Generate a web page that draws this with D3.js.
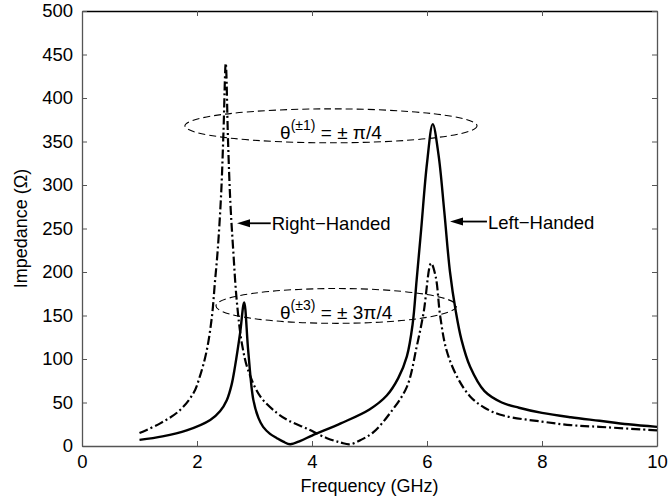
<!DOCTYPE html>
<html lang="en">
<head>
	<meta charset="utf-8"/>
	<title>Impedance vs Frequency</title>
	<script src="https://cdnjs.cloudflare.com/ajax/libs/d3/7.8.5/d3.min.js"></script>
	<style>
		body { margin: 0; background: #fff; }
		text { font-family: "Liberation Sans", Arial, sans-serif; fill: #000; }
	</style>
</head>
<body>
<div id="chart"></div>
<script type="text/javascript">
	// solid curve (freq GHz, impedance ohm)
	var solidFreq = [1.0, 1.4, 1.82, 2.23, 2.4, 2.52, 2.6, 2.66, 2.75, 2.82, 2.89, 2.98, 3.07, 3.15, 3.27, 3.39, 3.5, 3.62, 3.8, 4.0, 4.5, 5.0, 5.3, 5.5, 5.65, 5.75, 5.82, 5.9, 6.0, 6.1, 6.2, 6.3, 6.4, 6.5, 6.6, 6.75, 7.0, 7.3, 7.6, 8.0, 8.5, 9.0, 9.5, 10.0];
	var solidZ    = [7, 11, 18, 30, 40, 53, 70, 91, 130, 165, 110, 53, 32, 22, 14, 9, 5, 2, 6, 12, 26, 42, 58, 78, 103, 140, 191, 250, 325, 370, 335, 270, 200, 155, 122, 91, 63, 50, 44, 38, 33, 29, 25, 22];

	// dash-dot curve
	var dashFreq = [1.0, 1.36, 1.7, 1.94, 2.05, 2.17, 2.26, 2.31, 2.36, 2.42, 2.46, 2.5, 2.54, 2.58, 2.63, 2.69, 2.78, 2.89, 3.1, 3.39, 3.6, 3.91, 4.26, 4.5, 4.66, 4.85, 5.07, 5.36, 5.65, 5.82, 5.94, 6.07, 6.15, 6.23, 6.34, 6.52, 6.75, 7.0, 7.33, 8.0, 8.5, 9.0, 10.0];
	var dashZ    = [15, 26, 41, 61, 80, 110, 149, 187, 225, 290, 360, 440, 350, 280, 225, 168, 118, 87, 57, 38, 29, 20, 9, 4, 2, 7, 16, 38, 68, 114, 153, 210, 195, 149, 110, 80, 57, 44, 35, 28, 24, 22, 18];

	var xTicks = [0, 2, 4, 6, 8, 10];
	var yTicks = [0, 50, 100, 150, 200, 250, 300, 350, 400, 450, 500];

	// annotations: ellipses (center f, center Z, rx in GHz, ry in ohm) + labels
	var ellipseF  = [4.33, 4.42];
	var ellipseZ  = [368, 161];
	var ellipseRx = [2.54, 2.09];
	var ellipseRy = [19.5, 20];
	var thetaSup  = ["(\u00b11)", "(\u00b13)"];
	var thetaRhs  = [" = \u00b1 \u03c0/4", " = \u00b1 3\u03c0/4"];

	var arrowLabels = ["Right\u2212Handed", "Left\u2212Handed"];
	var arrowTipF   = [2.7, 6.4];
	var arrowTextF  = [3.3, 7.06];
	var arrowZ      = [256, 258];

	var W = 669, H = 500;
	var margin = {left: 82, right: 12, top: 11, bottom: 54};

	var svg = d3.select("#chart").append("svg")
		.attr("width", W).attr("height", H);

	var x = d3.scaleLinear().domain([0, 10]).range([margin.left, W - margin.right]);
	var y = d3.scaleLinear().domain([0, 500]).range([H - margin.bottom, margin.top]);

	// axes, matlab style: ticks inside on all four sides
	var xAxisB = d3.axisBottom(x).tickValues(xTicks).tickSizeInner(-5).tickSizeOuter(0).tickPadding(9);
	var xAxisT = d3.axisTop(x).tickValues(xTicks).tickSizeInner(-5).tickSizeOuter(0).tickFormat("");
	var yAxisL = d3.axisLeft(y).tickValues(yTicks).tickSizeInner(-5).tickSizeOuter(0).tickPadding(9);
	var yAxisR = d3.axisRight(y).tickValues(yTicks).tickSizeInner(-5).tickSizeOuter(0).tickFormat("");

	function styleAxis(g) {
		g.selectAll("path").attr("stroke", "#555").attr("stroke-width", 1.3);
		g.selectAll("line").attr("stroke", "#555");
		g.selectAll("text").style("font-size", "18.5px").attr("fill", "#000");
	}

	svg.append("g").attr("transform", "translate(0," + y(0) + ")").call(xAxisB).call(styleAxis);
	svg.append("g").attr("transform", "translate(0," + y(500) + ")").call(xAxisT).call(styleAxis)
		.select("path").attr("stroke", "#000");
	svg.append("g").attr("transform", "translate(" + x(0) + ",0)").call(yAxisL).call(styleAxis);
	svg.append("g").attr("transform", "translate(" + x(10) + ",0)").call(yAxisR).call(styleAxis);

	// axis titles
	svg.append("text")
		.attr("x", (x(0) + x(10)) / 2).attr("y", 492)
		.attr("text-anchor", "middle").style("font-size", "18px")
		.text("Frequency (GHz)");
	svg.append("text")
		.attr("transform", "translate(27," + ((y(0) + y(500)) / 2) + ") rotate(-90)")
		.attr("text-anchor", "middle").style("font-size", "18px")
		.text("Impedance (\u03a9)");

	var line = d3.line()
		.x(function(d) { return x(d[0]); })
		.y(function(d) { return y(d[1]); })
		.curve(d3.curveCatmullRom.alpha(0.5));

	var solid = d3.zip(solidFreq, solidZ);
	var dashed = d3.zip(dashFreq, dashZ);

	var plot = svg.append("g");
	plot.append("path").datum(dashed)
		.attr("d", line).attr("fill", "none")
		.attr("stroke", "#000").attr("stroke-width", 2.2)
		.attr("stroke-dasharray", "9,3,2,3");
	plot.append("path").datum(solid)
		.attr("d", line).attr("fill", "none")
		.attr("stroke", "#000").attr("stroke-width", 2.4);

	// ellipses
	ellipseF.forEach(function(f, i) {
		svg.append("ellipse")
			.attr("cx", x(f)).attr("cy", y(ellipseZ[i]))
			.attr("rx", x(ellipseRx[i]) - x(0))
			.attr("ry", y(0) - y(ellipseRy[i]))
			.attr("fill", "none").attr("stroke", "#000")
			.attr("stroke-width", 1.1).attr("stroke-dasharray", "7,4");

		var t = svg.append("text")
			.attr("x", x(f)).attr("y", y(ellipseZ[i]) + 13)
			.attr("text-anchor", "middle").style("font-size", "19px");
		t.append("tspan").text("\u03b8");
		t.append("tspan").attr("dy", -9).style("font-size", "14px").text(thetaSup[i]);
		t.append("tspan").attr("dy", 9).text(thetaRhs[i]);
	});

	// arrow labels
	arrowLabels.forEach(function(lab, i) {
		var tipX = x(arrowTipF[i]) - 20 + (i === 0 ? 0 : 0);
		tipX = i === 0 ? 237 : 450;
		var textX = x(arrowTextF[i]);
		var yy = y(arrowZ[i]);
		svg.append("line")
			.attr("x1", tipX + 10).attr("x2", textX - 1)
			.attr("y1", yy).attr("y2", yy)
			.attr("stroke", "#000").attr("stroke-width", 1.8);
		svg.append("path")
			.attr("d", "M" + tipX + "," + yy + "L" + (tipX + 13) + "," + (yy - 4) + "L" + (tipX + 13) + "," + (yy + 4) + "Z")
			.attr("fill", "#000");
		svg.append("text")
			.attr("x", textX).attr("y", yy + 7)
			.style("font-size", "18.5px")
			.text(lab);
	});
</script>
</body>
</html>
